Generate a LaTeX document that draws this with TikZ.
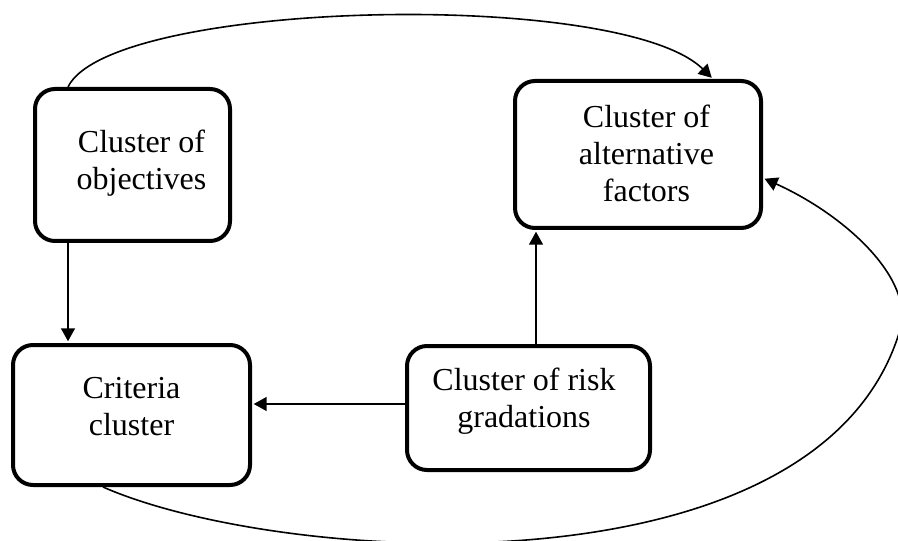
\documentclass[tikz,border=0pt]{standalone}
\usepackage{fontspec}
\setmainfont{Liberation Serif}
\usetikzlibrary{arrows.meta}
\begin{document}
\begin{tikzpicture}[x=0.75pt,y=-0.75pt,
  boxstyle/.style={draw, line width=3pt, rounded corners=15pt, inner sep=0pt, fill=white},
  txt/.style={align=center, font=\fontsize{24}{27.75}\selectfont, inner sep=0pt},
  conn/.style={line width=1.2pt, shorten >=1.3pt, -{Triangle[length=9.75pt,width=10.5pt]}}]
\useasboundingbox (0,0) rectangle (898,541);
% boxes
\node[boxstyle, minimum width=146.25pt, minimum height=114pt] (b1) at (132.5,165) {};
\node[boxstyle, minimum width=184.5pt, minimum height=110.25pt] (b2) at (638,154.5) {};
\node[boxstyle, minimum width=177.75pt, minimum height=105pt] (b3) at (131.5,415) {};
\node[boxstyle, minimum width=182.25pt, minimum height=93pt] (b4) at (528.5,408) {};
% texts
\node[txt] (t1) at (141.5,163) {Cluster of\\objectives};
\node[txt] (t2) at (646.5,153) {Cluster of\\alternative\\factors};
\node[txt] (t3) at (131.5,407) {Criteria\\cluster};
\node[txt] (t4) at (524,401.5) {Cluster of risk\\gradations};
% helper coordinates
\coordinate (xa) at (68,0);
\coordinate (xb) at (536,0);
\coordinate (xt) at (713,0);
\coordinate (xc) at (103,0);
\coordinate (yh) at (0,404);
\coordinate (yr) at (0,178);
\coordinate (rp) at (900,330);
% connectors
\draw[conn] (b1.south -| xa) -- (b3.north -| xa);
\draw[conn] (b4.west |- yh) -- (b3.east |- yh);
\draw[conn] (b4.north -| xb) -- (b2.south -| xb);
\draw[conn] (b1.north -| xa) .. controls (110,0) and (620,-12) .. (b2.north -| xt);
\draw[conn] (b3.south -| xc) .. controls (280,565) and (820,600) .. (rp)
  .. controls (915,279) and (845,215) .. (b2.east |- yr);
\end{tikzpicture}
\end{document}
